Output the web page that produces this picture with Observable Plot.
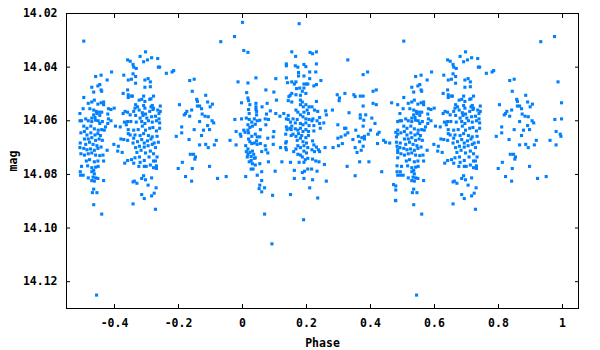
<!DOCTYPE html>
<html>
<head>
<meta charset="utf-8">
<script src="https://cdn.jsdelivr.net/npm/d3@7"></script>
<script src="https://cdn.jsdelivr.net/npm/@observablehq/plot@0.6"></script>
<style>
  html, body { margin: 0; padding: 0; background: #fff; }
</style>
</head>
<body>
<div id="chart"></div>
<script>
// Observations as [phase, mag], phase in [0, 1)
const clusterA = [[0.000,14.0233],[0.004,14.0338],[0.017,14.0345],[0.042,14.044],[0.104,14.0443],[0.017,14.0459],[0.073,14.0485],[0.098,14.0493],[0.013,14.0495],[0.137,14.0388],[0.137,14.0395],[0.137,14.044],[0.141,14.0458],[0.149,14.0505],[0.145,14.051],[0.017,14.0515],[0.019,14.0525],[0.023,14.054],[0.042,14.0535],[0.042,14.0548],[0.042,14.0558],[0.061,14.0548],[0.106,14.0523],[0.143,14.0525],[0.077,14.0535],[0.087,14.0563],[0.075,14.0575],[0.104,14.0573],[0.117,14.0583],[0.129,14.0573],[0.143,14.058],[0.019,14.0558],[0.021,14.0573],[0.012,14.059],[0.021,14.0595],[0.029,14.0605],[0.037,14.0593],[0.046,14.06],[0.054,14.0598],[0.071,14.0593],[0.081,14.0595],[0.044,14.0565],[0.044,14.0578],[0.137,14.0593],[0.143,14.0595],[0.15,14.0605],[0.073,14.0615],[0.017,14.0615],[0.023,14.0625],[0.031,14.062],[0.04,14.0613],[0.137,14.0623],[0.148,14.0628],[0.139,14.0633],[0.152,14.0633],[0.004,14.0635],[0.008,14.0643],[0.017,14.0635],[0.019,14.0645],[0.056,14.0633],[0.098,14.064],[0.029,14.0658],[0.04,14.065],[0.046,14.066],[0.054,14.066],[0.019,14.0668],[0.023,14.0678],[0.029,14.0685],[0.037,14.0683],[0.044,14.0675],[0.079,14.0665],[0.096,14.066],[0.135,14.065],[0.137,14.0678],[0.135,14.0683],[0.152,14.0655],[0.056,14.0685],[0.046,14.0688],[0.071,14.0693],[0.096,14.0688],[0.01,14.0693],[0.017,14.0705],[0.012,14.0715],[0.023,14.0718],[0.031,14.0713],[0.073,14.0708],[0.079,14.072],[0.135,14.07],[0.137,14.0708],[0.119,14.07],[0.017,14.0725],[0.015,14.0735],[0.027,14.0733],[0.035,14.0725],[0.04,14.0738],[0.06,14.0715],[0.027,14.0748],[0.037,14.074],[0.021,14.0753],[0.081,14.0753],[0.123,14.0753],[0.15,14.0755],[0.031,14.076],[0.04,14.0765],[0.027,14.078],[0.033,14.078],[0.054,14.076],[0.102,14.0788],[0.06,14.079],[0.01,14.0808],[0.046,14.0803],[0.06,14.0823],[0.054,14.084],[0.052,14.0853],[0.069,14.085],[0.06,14.0865],[0.094,14.0878],[0.069,14.0948],[0.15,14.0875],[0.092,14.1059]];

const clusterB = [[0.177,14.0238],[0.154,14.0343],[0.166,14.036],[0.211,14.0345],[0.219,14.035],[0.231,14.0343],[0.231,14.0388],[0.165,14.0395],[0.173,14.04],[0.192,14.039],[0.198,14.0398],[0.21,14.0418],[0.229,14.0418],[0.175,14.042],[0.175,14.0433],[0.192,14.0433],[0.21,14.0443],[0.245,14.045],[0.154,14.0455],[0.162,14.0463],[0.167,14.0455],[0.192,14.0463],[0.2,14.0463],[0.204,14.0463],[0.223,14.047],[0.231,14.0465],[0.179,14.0478],[0.192,14.0478],[0.169,14.048],[0.154,14.0498],[0.167,14.0503],[0.187,14.049],[0.198,14.0498],[0.181,14.0505],[0.296,14.0503],[0.32,14.0498],[0.303,14.0515],[0.302,14.0525],[0.231,14.0528],[0.181,14.0523],[0.187,14.053],[0.154,14.053],[0.181,14.054],[0.19,14.0548],[0.198,14.054],[0.208,14.0548],[0.217,14.0548],[0.167,14.056],[0.173,14.0568],[0.181,14.0578],[0.192,14.0568],[0.202,14.056],[0.206,14.0573],[0.225,14.056],[0.235,14.0565],[0.26,14.0563],[0.262,14.0578],[0.281,14.056],[0.158,14.0593],[0.171,14.0595],[0.165,14.0608],[0.189,14.0585],[0.198,14.0593],[0.208,14.0595],[0.22,14.0593],[0.233,14.06],[0.241,14.0588],[0.254,14.0608],[0.181,14.061],[0.189,14.0615],[0.198,14.0608],[0.208,14.0618],[0.217,14.06],[0.223,14.0618],[0.241,14.061],[0.243,14.0628],[0.154,14.062],[0.165,14.063],[0.173,14.0635],[0.181,14.0628],[0.189,14.064],[0.198,14.0633],[0.206,14.064],[0.223,14.0638],[0.298,14.0615],[0.319,14.0628],[0.158,14.065],[0.167,14.0658],[0.175,14.0648],[0.185,14.0655],[0.198,14.0663],[0.206,14.0655],[0.171,14.0673],[0.181,14.0665],[0.189,14.0678],[0.2,14.0683],[0.219,14.0675],[0.298,14.0665],[0.308,14.066],[0.321,14.0653],[0.173,14.0693],[0.181,14.07],[0.192,14.0693],[0.204,14.07],[0.167,14.0705],[0.223,14.069],[0.231,14.0698],[0.237,14.0708],[0.241,14.0715],[0.258,14.07],[0.217,14.0708],[0.225,14.0715],[0.283,14.07],[0.3,14.0693],[0.312,14.0685],[0.16,14.0715],[0.173,14.0725],[0.181,14.0728],[0.192,14.0713],[0.2,14.072],[0.187,14.0735],[0.196,14.0745],[0.204,14.074],[0.177,14.0755],[0.192,14.0755],[0.219,14.0743],[0.229,14.075],[0.239,14.0753],[0.256,14.0763],[0.194,14.0788],[0.187,14.0793],[0.204,14.078],[0.233,14.0788],[0.216,14.078],[0.162,14.0785],[0.162,14.0815],[0.192,14.0815],[0.219,14.082],[0.262,14.0825],[0.21,14.085],[0.235,14.0888],[0.191,14.0969]];

const clusterC = [[0.329,14.0373],[0.377,14.0428],[0.391,14.0418],[0.348,14.0503],[0.352,14.051],[0.368,14.0508],[0.377,14.0508],[0.408,14.049],[0.418,14.0485],[0.377,14.0545],[0.408,14.0535],[0.418,14.054],[0.466,14.0533],[0.485,14.054],[0.333,14.057],[0.368,14.0578],[0.368,14.059],[0.385,14.0578],[0.379,14.0598],[0.404,14.059],[0.414,14.061],[0.323,14.0628],[0.354,14.0635],[0.377,14.062],[0.4,14.0635],[0.427,14.0643],[0.422,14.065],[0.329,14.0645],[0.362,14.0658],[0.373,14.0663],[0.381,14.0668],[0.381,14.0658],[0.393,14.065],[0.345,14.067],[0.366,14.0678],[0.441,14.0673],[0.447,14.068],[0.46,14.0683],[0.422,14.0685],[0.485,14.0635],[0.485,14.065],[0.481,14.066],[0.479,14.0643],[0.485,14.0603],[0.481,14.068],[0.483,14.0695],[0.485,14.0708],[0.485,14.0718],[0.377,14.0695],[0.352,14.07],[0.371,14.071],[0.358,14.0718],[0.485,14.0738],[0.366,14.0753],[0.395,14.0753],[0.327,14.077],[0.483,14.0768],[0.435,14.079],[0.483,14.079],[0.352,14.0805],[0.485,14.0803],[0.472,14.0838],[0.479,14.0843],[0.479,14.0858],[0.479,14.0898],[0.478,14.0897]];

const clusterD = [[0.504,14.0303],[0.591,14.0418],[0.541,14.0435],[0.558,14.043],[0.577,14.0448],[0.629,14.043],[0.641,14.0373],[0.649,14.0378],[0.658,14.039],[0.643,14.0448],[0.653,14.0445],[0.658,14.0425],[0.529,14.0475],[0.548,14.047],[0.554,14.0465],[0.535,14.0493],[0.558,14.0485],[0.56,14.049],[0.627,14.0498],[0.504,14.0513],[0.641,14.0485],[0.643,14.0503],[0.643,14.0513],[0.653,14.0508],[0.518,14.0535],[0.529,14.053],[0.537,14.0523],[0.548,14.0538],[0.558,14.0533],[0.566,14.053],[0.566,14.054],[0.502,14.0555],[0.523,14.0555],[0.535,14.056],[0.543,14.0565],[0.552,14.0568],[0.56,14.0568],[0.581,14.0555],[0.589,14.0558],[0.599,14.0553],[0.535,14.0578],[0.545,14.0573],[0.554,14.058],[0.529,14.059],[0.539,14.0588],[0.579,14.0575],[0.581,14.0593],[0.627,14.0573],[0.633,14.0565],[0.641,14.0568],[0.649,14.0578],[0.492,14.0573],[0.497,14.06],[0.51,14.0593],[0.518,14.06],[0.529,14.0603],[0.541,14.0598],[0.549,14.06],[0.554,14.061],[0.562,14.0603],[0.589,14.06],[0.579,14.061],[0.641,14.0603],[0.651,14.0603],[0.637,14.0615],[0.631,14.0605],[0.618,14.0623],[0.603,14.062],[0.492,14.06],[0.504,14.062],[0.514,14.0628],[0.526,14.062],[0.537,14.063],[0.549,14.0635],[0.56,14.0633],[0.568,14.0635],[0.572,14.0623],[0.643,14.0633],[0.495,14.0645],[0.506,14.064],[0.514,14.0653],[0.526,14.0645],[0.539,14.0653],[0.548,14.0648],[0.556,14.0655],[0.643,14.0648],[0.649,14.0653],[0.506,14.0668],[0.518,14.0668],[0.529,14.0663],[0.541,14.0673],[0.552,14.0668],[0.562,14.0673],[0.62,14.0668],[0.629,14.067],[0.641,14.0673],[0.493,14.0683],[0.51,14.0688],[0.522,14.068],[0.533,14.0688],[0.545,14.0693],[0.598,14.0688],[0.612,14.0695],[0.492,14.07],[0.504,14.0703],[0.514,14.0708],[0.525,14.0705],[0.537,14.071],[0.548,14.0703],[0.558,14.0698],[0.577,14.071],[0.61,14.0713],[0.624,14.0718],[0.495,14.0723],[0.506,14.0728],[0.518,14.0723],[0.529,14.072],[0.541,14.0728],[0.554,14.073],[0.564,14.0728],[0.512,14.075],[0.522,14.0745],[0.537,14.0753],[0.548,14.075],[0.566,14.075],[0.632,14.0758],[0.641,14.0748],[0.653,14.0745],[0.497,14.077],[0.516,14.0768],[0.529,14.0775],[0.541,14.0773],[0.549,14.077],[0.535,14.0785],[0.529,14.079],[0.537,14.0798],[0.533,14.081],[0.493,14.079],[0.502,14.0803],[0.494,14.0803],[0.518,14.0813],[0.541,14.0813],[0.548,14.0815],[0.529,14.0823],[0.537,14.0825],[0.566,14.0823],[0.658,14.0828],[0.535,14.0855],[0.531,14.0868],[0.545,14.0868],[0.535,14.0913],[0.56,14.0948],[0.658,14.091],[0.544,14.125]];

const clusterE = [[0.697,14.0343],[0.68,14.036],[0.691,14.038],[0.703,14.0373],[0.716,14.0365],[0.735,14.0368],[0.66,14.04],[0.668,14.0405],[0.737,14.04],[0.741,14.04],[0.762,14.0423],[0.78,14.0418],[0.785,14.0413],[0.666,14.0435],[0.695,14.0448],[0.705,14.0443],[0.712,14.0455],[0.666,14.046],[0.695,14.0475],[0.712,14.0473],[0.656,14.0508],[0.691,14.0508],[0.722,14.0508],[0.677,14.0523],[0.685,14.052],[0.695,14.0528],[0.71,14.052],[0.714,14.0518],[0.803,14.054],[0.666,14.054],[0.664,14.0553],[0.672,14.0548],[0.691,14.0543],[0.695,14.0553],[0.714,14.0548],[0.718,14.0543],[0.722,14.0553],[0.743,14.0545],[0.66,14.0565],[0.677,14.056],[0.687,14.057],[0.697,14.0575],[0.71,14.0565],[0.72,14.0558],[0.735,14.056],[0.739,14.0573],[0.743,14.0565],[0.826,14.0565],[0.818,14.0578],[0.822,14.0573],[0.666,14.058],[0.68,14.059],[0.689,14.058],[0.701,14.059],[0.716,14.0585],[0.728,14.0583],[0.739,14.0593],[0.668,14.0605],[0.685,14.0603],[0.695,14.061],[0.706,14.06],[0.718,14.0605],[0.731,14.06],[0.741,14.0608],[0.81,14.0623],[0.66,14.0635],[0.674,14.0633],[0.687,14.062],[0.697,14.0635],[0.71,14.0628],[0.72,14.0625],[0.731,14.0638],[0.741,14.0628],[0.664,14.0653],[0.68,14.0655],[0.691,14.0648],[0.706,14.0655],[0.718,14.066],[0.733,14.0658],[0.81,14.0645],[0.793,14.0658],[0.66,14.0665],[0.672,14.0678],[0.685,14.067],[0.693,14.0683],[0.703,14.0675],[0.714,14.0668],[0.724,14.0683],[0.737,14.068],[0.658,14.0683],[0.666,14.07],[0.678,14.0695],[0.693,14.0698],[0.705,14.0693],[0.718,14.0688],[0.728,14.07],[0.67,14.0718],[0.683,14.071],[0.697,14.072],[0.712,14.0713],[0.722,14.0723],[0.664,14.0738],[0.678,14.0735],[0.693,14.0748],[0.708,14.0735],[0.733,14.0735],[0.66,14.0758],[0.68,14.0755],[0.722,14.075],[0.728,14.075],[0.812,14.0755],[0.676,14.077],[0.693,14.077],[0.699,14.077],[0.712,14.0765],[0.731,14.0768],[0.722,14.0775],[0.731,14.0778],[0.799,14.0778],[0.822,14.0808],[0.685,14.0815],[0.691,14.0805],[0.697,14.082],[0.716,14.0813],[0.662,14.0825],[0.67,14.0833],[0.705,14.084],[0.73,14.085],[0.724,14.087],[0.716,14.088],[0.685,14.0875],[0.693,14.089],[0.728,14.093]];

const clusterF = [[0.975,14.0286],[0.932,14.0305],[0.835,14.045],[0.849,14.0445],[0.986,14.0455],[0.843,14.049],[0.885,14.0505],[0.857,14.052],[0.859,14.0528],[0.891,14.053],[0.906,14.0538],[0.899,14.0548],[0.859,14.0545],[0.866,14.0545],[0.872,14.0555],[0.841,14.056],[0.997,14.0533],[0.874,14.0575],[0.883,14.0583],[0.893,14.0585],[0.835,14.0583],[0.976,14.0595],[0.997,14.0593],[0.866,14.0603],[0.905,14.06],[0.91,14.0608],[0.891,14.0618],[0.849,14.0633],[0.878,14.0635],[0.897,14.0633],[0.872,14.0655],[0.98,14.064],[0.993,14.065],[0.995,14.0658],[0.833,14.067],[0.918,14.0673],[0.961,14.0673],[0.866,14.069],[0.885,14.0688],[0.912,14.069],[0.893,14.07],[0.98,14.069],[0.837,14.0725],[0.847,14.0725],[0.853,14.0735],[0.851,14.0743],[0.843,14.0778],[0.897,14.077],[0.922,14.0815],[0.949,14.0808],[0.841,14.0825]];

const xTicks = [-0.4, -0.2, 0, 0.2, 0.4, 0.6, 0.8, 1];
const yTicks = [14.02, 14.04, 14.06, 14.08, 14.10, 14.12];
const xLabel = "Phase";
const yLabel = "mag";

// Phase-folded display: points of the second half also shown one cycle earlier
const base = [...clusterA, ...clusterB, ...clusterC, ...clusterD, ...clusterE, ...clusterF]
  .map(([phase, mag]) => ({phase, mag}));
const shown = base.concat(base.filter(d => d.phase >= 0.49).map(d => ({phase: d.phase - 1, mag: d.mag})));

const fmtX = d => String(+d.toFixed(1));
const fmtY = d => d.toFixed(2);

const chart = Plot.plot({
  width: 600,
  height: 350,
  marginLeft: 66,
  marginRight: 22,
  marginTop: 13,
  marginBottom: 42,
  style: {fontFamily: "'DejaVu Sans Mono', monospace", fontSize: "11.5px", fontWeight: "bold", color: "#000", background: "#fff"},
  x: {domain: [-0.55, 1.05]},
  y: {domain: [14.02, 14.13], reverse: true},
  marks: [
    Plot.dot(shown, {x: "phase", y: "mag", symbol: "square", r: 1.75, fill: "#0080ff", stroke: null}),
    Plot.frame({stroke: "#000", strokeWidth: 1}),
    Plot.axisX(xTicks, {anchor: "bottom", tickSize: -4, tickPadding: 14, tickFormat: fmtX, label: xLabel, labelAnchor: "center", labelOffset: 38, labelArrow: "none"}),
    Plot.axisX(xTicks, {anchor: "top", tickSize: -4, tickFormat: () => "", label: null}),
    Plot.axisY(yTicks, {anchor: "left", tickSize: -4, tickPadding: 13, tickFormat: fmtY, label: yLabel, labelAnchor: "center", labelOffset: 58, labelArrow: "none"}),
    Plot.axisY(yTicks, {anchor: "right", tickSize: -4, tickFormat: () => "", label: null})
  ]
});
document.getElementById("chart").appendChild(chart);
</script>
</body>
</html>
